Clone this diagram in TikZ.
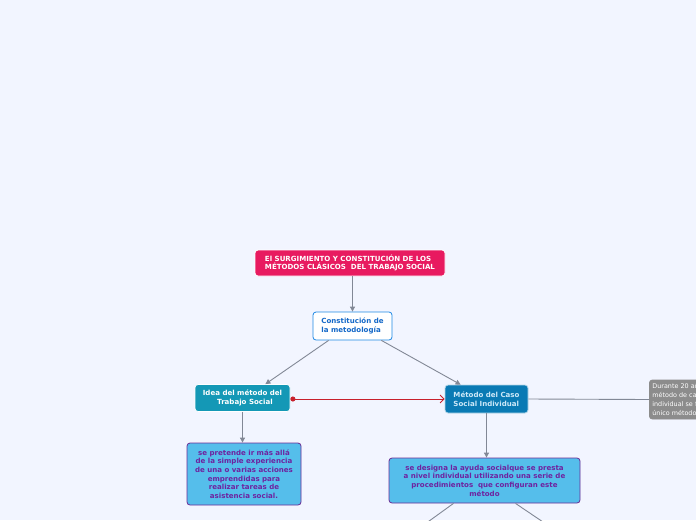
\documentclass[tikz,border=0pt]{standalone}
\usepackage{fontspec}
\setmainfont{DejaVu Sans}
\usetikzlibrary{arrows.meta, positioning, calc}
\definecolor{bgblue}{RGB}{242,245,255}
\definecolor{titlered}{RGB}{232,26,96}
\definecolor{linkblue}{RGB}{30,136,229}
\definecolor{textblue}{RGB}{20,104,200}
\definecolor{ideateal}{RGB}{20,152,182}
\definecolor{casoblue}{RGB}{10,122,180}
\definecolor{casotext}{RGB}{205,232,248}
\definecolor{notegray}{RGB}{140,140,140}
\definecolor{skyfill}{RGB}{85,190,235}
\definecolor{purpleline}{RGB}{105,45,150}
\definecolor{purpletext}{RGB}{110,35,160}
\definecolor{edgegray}{RGB}{130,136,150}
\definecolor{relred}{RGB}{200,32,44}
\tikzset{
  box/.style={rectangle, rounded corners=3pt, align=center, inner sep=0pt,
    font=\fontsize{7.05}{8.7}\selectfont\bfseries, line width=0.8pt},
  titlebox/.style={box, fill=titlered, draw=white, text=white, align=left,
    minimum width=190pt, minimum height=26pt},
  mainbox/.style={box, fill=white, draw=linkblue, text=textblue, align=left,
    minimum width=79pt, minimum height=28pt},
  ideabox/.style={box, fill=ideateal, draw=white, text=white,
    minimum width=95pt, minimum height=27pt},
  casobox/.style={box, fill=casoblue, draw=white!70!casoblue, text=casotext,
    align=left, minimum width=83pt, minimum height=28pt},
  notebox/.style={box, fill=notegray, draw=notegray, text=white, align=left,
    font=\fontsize{6.4}{9}\selectfont, text width=88pt, minimum height=39pt,
    inner xsep=3pt},
  skybox/.style={box, fill=skyfill, draw=purpleline, text=purpletext},
  arrow/.style={-{Triangle[length=5pt,width=5pt]}, line width=0.9pt, color=edgegray},
  line/.style={line width=0.9pt, color=edgegray},
  relation/.style={{Circle[length=5pt]}-{Straight Barb[length=4pt,width=8pt]},
    line width=0.8pt, color=relred}
}
\begin{document}
\begin{tikzpicture}[x=1pt, y=-1pt]
  \fill[bgblue] (0,0) rectangle (696,520);
  \useasboundingbox (0,0) rectangle (696,520);
  \clip (0,0) rectangle (696,520);

  \node[titlebox] (origen) at (350,263) {El SURGIMIENTO Y CONSTITUCIÓN DE LOS\\MÉTODOS CLÁSICOS\ \ DEL TRABAJO SOCIAL};
  \node[mainbox] (metodologia) at (352.5,326) {Constitución de\\la metodología};
  \node[ideabox] (idea) at (242.5,398) {Idea del método del\\\ \ Trabajo Social};
  \node[casobox] (caso) at (486.5,399) {Método del Caso\\Social Individual};
  \node[notebox, anchor=west] (durante) at (649,399.5) {Durante 20 años el\\método de caso\\individual se fue el\\único método};
  \node[skybox, minimum width=114pt, minimum height=62pt] (pretende) at (244,474)
    {se pretende ir más allá\\de la simple experiencia\\de una o varias acciones\\emprendidas para\\realizar tareas de\\asistencia social.};
  \node[skybox, minimum width=191pt, minimum height=45pt] (designa) at (484.5,480.5)
    {se designa la ayuda socialque se presta\\a nivel individual utilizando una serie de\\procedimientos\ \ que configuran este\\método};

  \coordinate (rama1) at (425,524);
  \coordinate (rama2) at (546,524);

  \draw[arrow] (origen.south -| metodologia) -- (metodologia);
  \draw[arrow] ($(metodologia.south west)+(16,0)$) -- ($(idea.north east)+(-25,0)$);
  \draw[arrow] ($(metodologia.south east)+(-11,0)$) -- ($(caso.north west)+(16,0)$);
  \draw[relation] (idea.east |- caso.west) -- (caso.west);
  \draw[line] (caso.east) -- (durante.west);
  \draw[arrow] (idea.south) -- (idea.south |- pretende.north);
  \draw[arrow] (caso.south) -- (caso.south |- designa.north);
  \draw[line] ($(designa.south)+(-31,0)$) -- (rama1);
  \draw[line] ($(designa.south)+(31,0)$) -- (rama2);
\end{tikzpicture}
\end{document}
